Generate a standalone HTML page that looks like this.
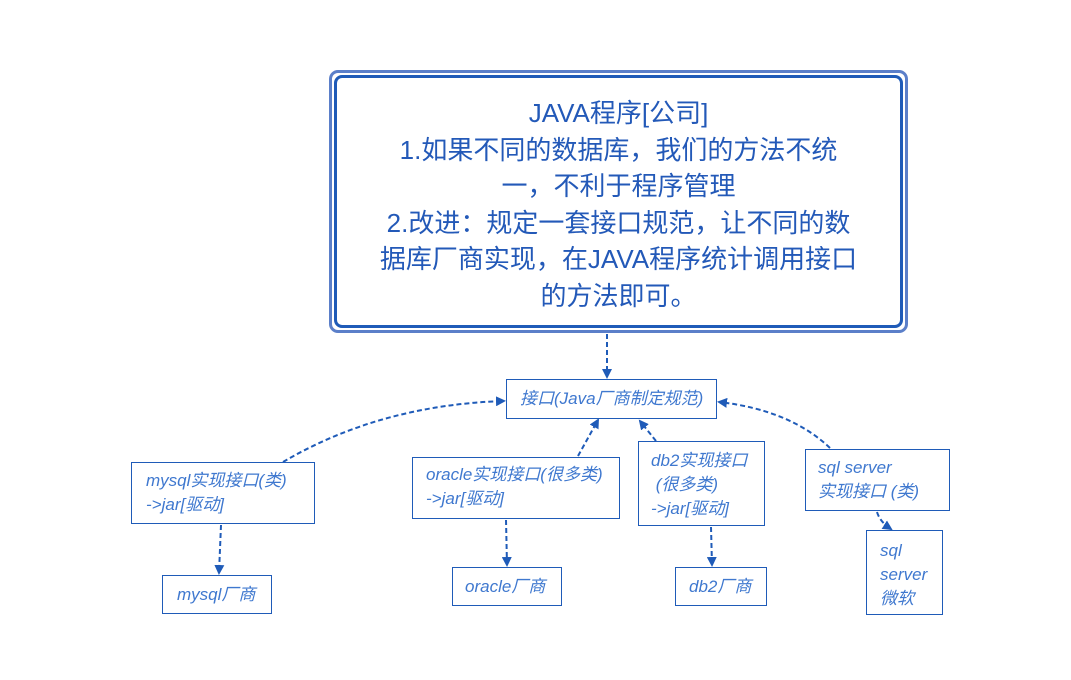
<!DOCTYPE html>
<html><head><meta charset="utf-8"><style>
body{margin:0;width:1071px;height:680px;background:#fff;position:relative;overflow:hidden;font-family:"Liberation Sans","Noto Sans CJK SC",sans-serif}
.b{position:absolute;border:1px solid #1f5bb8;box-sizing:border-box;background:#fff;color:#3f78cf;font-style:italic;font-size:17px;line-height:24px;white-space:nowrap}
#outer{position:absolute;left:329px;top:70px;width:579px;height:263px;border:3px solid #5b7fc9;border-radius:9px;box-sizing:border-box}
#inner{position:absolute;left:334px;top:75px;width:569px;height:253px;border:3px solid #1f5bb8;border-radius:8px;box-sizing:border-box;text-align:center;color:#2359b8;font-size:26px;line-height:36.5px;padding-top:17px;white-space:nowrap}
</style></head><body>
<div id="outer"></div>
<div id="inner">JAVA程序[公司]<br>1.如果不同的数据库，我们的方法不统<br>一，不利于程序管理<br>2.改进：规定一套接口规范，让不同的数<br>据库厂商实现，在JAVA程序统计调用接口<br>的方法即可。</div>
<div class="b" style="left:506px;top:379px;width:211px;height:40px;padding:7px 0 0 13px">接口(Java厂商制定规范)</div>
<div class="b" style="left:131px;top:462px;width:184px;height:62px;padding:6px 0 0 14px">mysql实现接口(类)<br>-&gt;jar[驱动]</div>
<div class="b" style="left:412px;top:457px;width:208px;height:62px;padding:5px 0 0 13px">oracle实现接口(很多类)<br>-&gt;jar[驱动]</div>
<div class="b" style="left:638px;top:441px;width:127px;height:85px;padding:7px 0 0 12px">db2实现接口<br>&nbsp;(很多类)<br>-&gt;jar[驱动]</div>
<div class="b" style="left:805px;top:449px;width:145px;height:62px;padding:6px 0 0 12px">sql server<br>实现接口 (类)</div>
<div class="b" style="left:162px;top:575px;width:110px;height:39px;padding:7px 0 0 14px">mysql厂商</div>
<div class="b" style="left:452px;top:567px;width:110px;height:39px;padding:7px 0 0 12px">oracle厂商</div>
<div class="b" style="left:675px;top:567px;width:92px;height:39px;padding:7px 0 0 13px">db2厂商</div>
<div class="b" style="left:866px;top:530px;width:77px;height:85px;padding:8px 0 0 13px">sql<br>server<br>微软</div>
<svg width="1071" height="680" style="position:absolute;left:0;top:0" fill="none" stroke="#1f5bb8" stroke-width="2" stroke-dasharray="5,3">
<defs><marker id="a" markerWidth="10" markerHeight="10" refX="8" refY="5" orient="auto" markerUnits="userSpaceOnUse"><path d="M0,0L10,5L0,10z" fill="#1f5bb8" stroke="none"/></marker></defs>
<path d="M607,334 L607,377" marker-end="url(#a)"/>
<path d="M283,462 Q380,405 504,401" marker-end="url(#a)"/>
<path d="M578,456 L598,420" marker-end="url(#a)"/>
<path d="M656,441 L640,421" marker-end="url(#a)"/>
<path d="M830,448 Q790,410 719,402" marker-end="url(#a)"/>
<path d="M221,525 L219,573" marker-end="url(#a)"/>
<path d="M506,520 L507,565" marker-end="url(#a)"/>
<path d="M711,527 L712,565" marker-end="url(#a)"/>
<path d="M877,512 Q880,522 891,529" marker-end="url(#a)"/>
</svg>
</body></html>
